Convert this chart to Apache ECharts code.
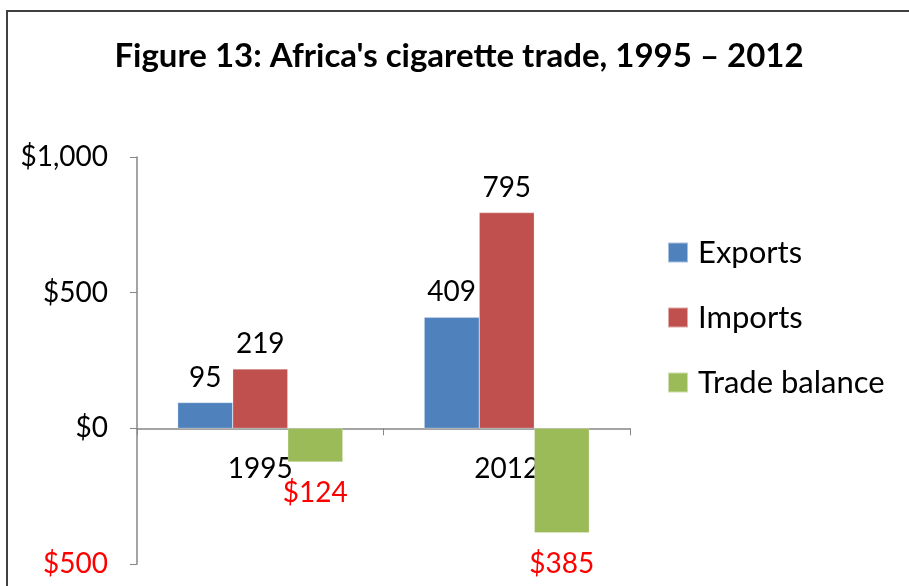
<!doctype html>
<html>
<head>
<meta charset="UTF-8">
<title>Figure 13</title>
<script src="https://cdn.jsdelivr.net/npm/echarts@6/dist/echarts.min.js"></script>
<style>
	html, body { margin: 0; padding: 0; background: #fff; }
	#chart { width: 909px; height: 586px; }
</style>
</head>
<body>
<div id="chart"></div>
<script>
var years = ['1995', '2012'];
var exports_ = [95, 409];
var imports_ = [219, 795];
var balance = [-124, -385];
var yTicks = [-500, 0, 500, 1000];

var FONT = 'Lato, "Open Sans", sans-serif';
var RED_TEXT = '#FF0000';

// negative numbers in red, without the minus sign
function money(v) {
	return '$' + Math.abs(v).toLocaleString('en-US');
}
function items(arr) {
	return arr.map(function(v) {
		if (v < 0) {
			return {
				value: v,
				label: {
					position: 'bottom',
					distance: 17,
					color: RED_TEXT,
					formatter: function(p) { return money(p.value); }
				}
			};
		}
		return { value: v };
	});
}
function bar(name, arr, color) {
	return {
		name: name,
		type: 'bar',
		data: items(arr),
		barGap: '0%',
		barCategoryGap: '33%',
		itemStyle: { color: color, borderColor: 'rgba(255,255,255,0.5)', borderWidth: 0.5 },
		label: {
			show: true,
			position: 'top',
			distance: 11,
			fontFamily: FONT,
			fontSize: 28,
			color: '#000'
		}
	};
}

var chart = echarts.init(document.getElementById('chart'));
chart.setOption({
	animation: false,
	textStyle: { fontFamily: FONT },
	title: {
		text: "Figure 13: Africa's cigarette trade, 1995 \u2013 2012",
		left: 454,
		textAlign: 'center',
		top: 35,
		textStyle: { fontFamily: FONT, fontSize: 33, fontWeight: 'bold', color: '#000' }
	},
	graphic: [{
		type: 'rect',
		shape: { x: 7, y: 11, width: 1000, height: 1000 },
		style: { fill: null, stroke: '#404040', lineWidth: 2 },
		silent: true
	}],
	legend: {
		orient: 'vertical',
		left: 667,
		top: 237,
		padding: 0,
		itemWidth: 20,
		itemHeight: 20,
		itemGap: 34,
		icon: 'rect',
		textStyle: { fontFamily: FONT, fontSize: 31, color: '#000', padding: [0, 0, 0, 5] }
	},
	grid: { left: 137, right: 279, top: 157, bottom: 22, containLabel: false, outerBoundsMode: 'none' },
	xAxis: {
		type: 'category',
		data: years,
		// axis sits on the $0 line (grid height 407px, zero at 2/3)
		offset: -135.7,
		axisLine: { onZero: false, lineStyle: { color: '#868686', width: 1.5 } },
		axisTick: { show: true, length: 7, lineStyle: { color: '#868686' } },
		axisLabel: { margin: 27, fontFamily: FONT, fontSize: 28, color: '#000' },
		splitLine: { show: false }
	},
	yAxis: {
		type: 'value',
		min: yTicks[0],
		max: yTicks[yTicks.length - 1],
		interval: 500,
		axisLine: { show: true, lineStyle: { color: '#868686', width: 1.5 } },
		axisTick: { show: true, length: 7, lineStyle: { color: '#868686' } },
		axisLabel: {
			margin: 29,
			fontFamily: FONT,
			fontSize: 28,
			formatter: money,
			color: function(v) { return Number(v) < 0 ? RED_TEXT : '#000'; }
		},
		splitLine: { show: false }
	},
	series: [
		bar('Exports', exports_, '#4F81BD'),
		bar('Imports', imports_, '#C0504D'),
		bar('Trade balance', balance, '#9BBB59')
	]
});
</script>
</body>
</html>
